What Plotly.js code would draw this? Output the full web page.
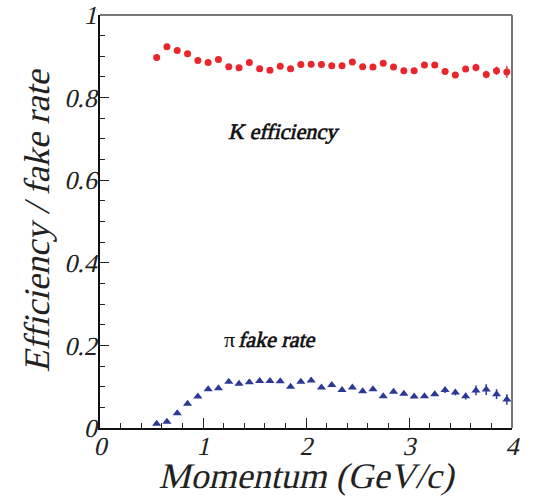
<!DOCTYPE html>
<html>
<head>
<meta charset="utf-8">
<script src="https://cdn.plot.ly/plotly-3.0.1.min.js"></script>
<style>
html,body{margin:0;padding:0;background:#fff;}
#chart{width:535px;height:496px;}
</style>
</head>
<body>
<div id="chart"></div>
<script>
const momentum = [0.55,0.65,0.75,0.85,0.95,1.05,1.15,1.25,1.35,1.45,1.55,1.65,1.75,1.85,1.95,2.05,2.15,2.25,2.35,2.45,2.55,2.65,2.75,2.85,2.95,3.05,3.15,3.25,3.35,3.45,3.55,3.65,3.75,3.85,3.95];
const kEff = [0.897,0.923,0.914,0.906,0.890,0.885,0.892,0.875,0.872,0.885,0.870,0.866,0.876,0.870,0.880,0.881,0.880,0.877,0.877,0.886,0.875,0.874,0.883,0.874,0.865,0.865,0.879,0.879,0.863,0.855,0.869,0.873,0.856,0.865,0.862];
const kErr = [0.008,0.004,0.004,0.004,0.004,0.004,0.004,0.004,0.004,0.004,0.004,0.004,0.004,0.004,0.004,0.004,0.004,0.004,0.004,0.004,0.004,0.004,0.004,0.004,0.004,0.004,0.005,0.005,0.005,0.006,0.006,0.009,0.009,0.010,0.014];
const piFake = [0.010,0.015,0.036,0.059,0.076,0.094,0.096,0.112,0.107,0.111,0.114,0.114,0.113,0.100,0.112,0.115,0.098,0.104,0.092,0.098,0.089,0.094,0.077,0.088,0.083,0.076,0.077,0.082,0.092,0.086,0.077,0.091,0.093,0.082,0.069];
const piErr = [0.003,0.003,0.003,0.003,0.003,0.003,0.003,0.003,0.003,0.003,0.003,0.003,0.003,0.003,0.003,0.003,0.003,0.003,0.003,0.003,0.003,0.003,0.003,0.003,0.003,0.003,0.004,0.004,0.007,0.007,0.008,0.012,0.013,0.012,0.013];

const red = '#e8262b';
const blue = '#2b3896';
const fam = 'Liberation Serif';

const traces = [
  {x: momentum, y: kEff, type: 'scatter', mode: 'markers', name: 'K efficiency',
   marker: {symbol: 'circle', size: 7, color: red},
   error_y: {type: 'data', array: kErr, visible: true, color: red, thickness: 1.5, width: 0}},
  {x: momentum, y: piFake, type: 'scatter', mode: 'markers', name: 'pi fake rate',
   marker: {symbol: 'triangle-up', size: 8, color: blue},
   error_y: {type: 'data', array: piErr, visible: true, color: blue, thickness: 1.5, width: 0}}
];

const layout = {
  width: 535, height: 496,
  margin: {l: 100, r: 23, t: 15, b: 68, pad: 0},
  paper_bgcolor: '#fff', plot_bgcolor: '#fff',
  showlegend: false,
  xaxis: {
    range: [0, 4], showgrid: false, zeroline: false,
    showline: true, linecolor: '#111', linewidth: 2,
    ticks: 'inside', ticklen: 10, tickwidth: 1, tickcolor: '#222', dtick: 1, tick0: 0,
    minor: {dtick: 0.2, ticks: 'inside', ticklen: 5, tickcolor: '#222', showgrid: false},
    tickfont: {family: fam, size: 26, color: '#222'},
    ticklabelstandoff: -6,
    title: {text: 'Momentum (GeV/c)', font: {family: fam, size: 36, color: '#222'}, standoff: 9}
  },
  yaxis: {
    range: [0, 1], showgrid: false, zeroline: false,
    showline: true, linecolor: '#111', linewidth: 2,
    ticks: 'inside', ticklen: 9, tickwidth: 1, tickcolor: '#222', dtick: 0.2, tick0: 0,
    minor: {dtick: 0.05, ticks: 'inside', ticklen: 5, tickcolor: '#222', showgrid: false},
    tickfont: {family: fam, size: 26, color: '#222'},
    ticklabelstandoff: -4,
    title: {text: 'Efficiency / fake rate', font: {family: fam, size: 36, color: '#222'}, standoff: 4}
  },
  shapes: [
    {type: 'line', xref: 'paper', yref: 'paper', x0: 0, x1: 1, y0: 1, y1: 1, line: {color: '#777', width: 2}},
    {type: 'line', xref: 'paper', yref: 'paper', x0: 1, x1: 1, y0: 0, y1: 1, line: {color: '#777', width: 2}}
  ],
  annotations: [
    {x: 1.77, y: 0.719, xref: 'x', yref: 'y', text: 'K efficiency', showarrow: false,
     font: {family: fam, size: 22, color: '#111'}},
    {x: 1.26, y: 0.215, xref: 'x', yref: 'y', text: 'π', showarrow: false,
     font: {family: fam, size: 22, color: '#111'}},
    {x: 1.32, y: 0.215, xref: 'x', yref: 'y', xanchor: 'left', text: 'fake rate', showarrow: false,
     font: {family: fam, size: 22, color: '#111'}}
  ]
};

function slant(el, bold) {
  const x = parseFloat(el.getAttribute('x')) || 0;
  const y = parseFloat(el.getAttribute('y')) || 0;
  const tr = el.getAttribute('transform') || '';
  el.setAttribute('transform', tr + ' translate(' + x + ',' + y + ') skewX(-13) translate(' + (-x) + ',' + (-y) + ')');
  if (bold) { el.style.stroke = '#111'; el.style.strokeWidth = '0.7px'; }
}

Plotly.newPlot('chart', traces, layout, {displayModeBar: false, staticPlot: true}).then(function (gd) {
  gd.querySelectorAll('g.xtick text, g.ytick text, text.xtitle, text.ytitle').forEach(function (t) { slant(t, false); });
  gd.querySelectorAll('text.annotation-text').forEach(function (t) {
    if (t.textContent.indexOf('π') === -1) slant(t, true);
  });
});
</script>
</body>
</html>
